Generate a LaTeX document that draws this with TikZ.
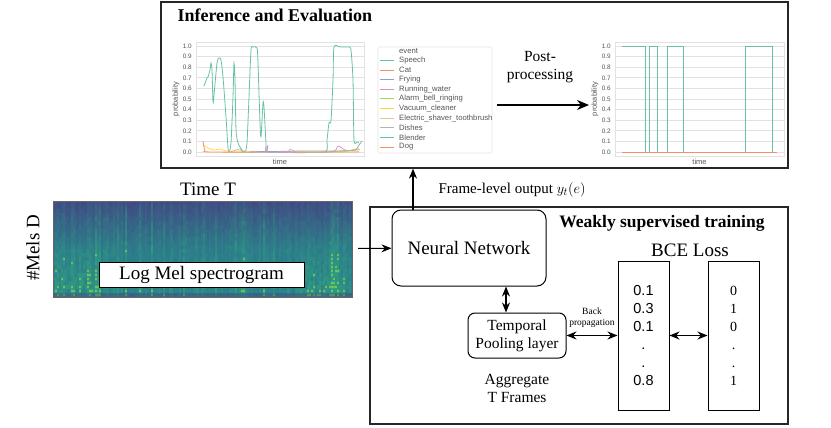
\documentclass[tikz,border=0pt]{standalone}
\usepackage{fontspec}
\setmainfont{Liberation Serif}
\setsansfont{Liberation Sans}
\usetikzlibrary{arrows.meta}

\definecolor{speech}{HTML}{66C2A5}
\definecolor{cat}{HTML}{FC8D62}
\definecolor{frying}{HTML}{8DA0CB}
\definecolor{running}{HTML}{E78AC3}
\definecolor{alarm}{HTML}{A6D854}
\definecolor{vacuum}{HTML}{FFD92F}
\definecolor{shaver}{HTML}{E5C494}
\definecolor{dishes}{HTML}{B3B3B3}
\definecolor{gridgray}{HTML}{E2E2E2}
\definecolor{ticktext}{HTML}{555555}
\definecolor{vtop}{HTML}{433F85}
\definecolor{vmid}{HTML}{2D6F8E}
\definecolor{vgreen}{HTML}{2FB17C}
\definecolor{vyellow}{HTML}{B5DE2B}

\newcommand{\bigfont}{\fontsize{19}{21}\selectfont}
\newcommand{\midfont}{\fontsize{15.5}{18}\selectfont}
\newcommand{\ticksize}{\fontsize{6.4}{6.5}\selectfont}

\tikzstyle{panel}=[draw=black!85,line width=1.3pt,inner sep=0pt]
\tikzstyle{roundbox}=[draw,rounded corners=9pt,line width=1pt,align=center,font=\bigfont]
\tikzstyle{vecbox}=[draw,line width=1pt,minimum width=51pt,minimum height=149pt,align=center]
\tikzstyle{ticklab}=[font=\sffamily\ticksize,text=ticktext,anchor=east,inner sep=1pt]
\tikzstyle{axlab}=[font=\sffamily\fontsize{7.5}{7.5}\selectfont,text=ticktext,inner sep=0pt]
\tikzstyle{legtext}=[font=\sffamily\fontsize{7.7}{8}\selectfont,text=ticktext,anchor=west,inner sep=0pt]
\tikzstyle{arr}=[-{Stealth[length=10pt,width=8pt]},line width=1.1pt]
\tikzstyle{dblarr}=[{Stealth[length=10pt,width=8pt]}-{Stealth[length=10pt,width=8pt]},line width=1.1pt]

% probability axes: #1 left, #2 right
\newcommand{\probaxes}[2]{%
  \draw[gridgray,line width=0.8pt] (#1,42) rectangle (#2,156);
  \foreach \i in {0,...,10} {
    \draw[gridgray,line width=0.6pt] (#1,152-10.6*\i) -- (#2,152-10.6*\i);
    \node[ticklab] at (#1-3,152-10.6*\i) {\ifnum\i=10 1.0\else 0.\i\fi};
  }
  \node[axlab,rotate=90] at (#1-20,99) {probability};
  \node[axlab] at ({(#1+#2)/2},162) {time};
}

\begin{document}
\begin{tikzpicture}[x=1pt,y=-1pt]
  \useasboundingbox (0,0) rectangle (831,428);

  % inference panel
  \node[panel,minimum width=627pt,minimum height=166pt] (infbox) at (474.5,85) {};
  \node[font=\bfseries\fontsize{18}{20}\selectfont,anchor=west] (inftitle) at (174,15) {Inference and Evaluation};

  \probaxes{196}{364}
  \draw[speech,line width=0.8pt] plot[smooth,tension=0.4] coordinates {(204,86) (207,78) (208,77) (210,70) (211,63) (212,70) (213,102) (214,95)
    (217,63) (219,58) (221,60) (223,77) (226,117) (228,148) (229,152) (231,143) (233,97) (234,63) (235,80) (236,130) (238,143)
    (242,150) (245,152) (247,143) (249,97) (251,50) (253,47) (257,48) (258,63) (260,123) (261,137) (263,103) (264,107) (266,143)
    (267,152) (290,152) (325,152) (327,140) (329,123) (331,121) (333,80) (334,47) (340,47) (347,47) (349,47) (351,50) (353,80)
    (354,140) (357,142) (359,143)};
  \draw[vacuum,line width=0.7pt] plot[smooth] coordinates {(203,145) (208,148) (214,150) (220,149) (226,151) (240,151) (300,152) (350,151) (359,148)};
  \draw[cat,line width=0.8pt] plot[smooth] coordinates {(203,141) (205,150) (212,152) (300,152) (359,152)};
  \draw[running,line width=0.7pt] plot[smooth] coordinates {(250,152) (266,151) (268,145) (271,152) (330,152) (338,146) (345,150) (359,151)};
  \draw[frying,line width=0.7pt] plot[smooth] coordinates {(250,152) (300,151) (330,151) (354,150) (359,145) (362,141)};
  \draw[dishes,line width=0.6pt] plot[smooth] coordinates {(230,152) (240,149) (245,152) (285,152) (290,149) (295,152)};
  \draw[alarm,line width=0.6pt] plot[smooth] coordinates {(300,152) (340,152) (356,149) (360,150)};

  % legend
  \node[draw=gridgray,rounded corners=1pt,line width=0.7pt,minimum width=114pt,minimum height=106pt] (leg) at (435,100) {};
  \foreach \c/\t [count=\k from 0] in {white/event,speech/Speech,cat/Cat,frying/Frying,running/Running\_water,
      alarm/Alarm\_bell\_ringing,vacuum/Vacuum\_cleaner,shaver/Electric\_shaver\_toothbrush,dishes/Dishes,speech/Blender,cat/Dog} {
    \draw[\c,line width=1pt] (380,51+9.6*\k) -- (394,51+9.6*\k);
    \node[legtext] at (399,51+9.6*\k) {\t};
  }

  % post-processing
  \node[font=\fontsize{15.5}{18}\selectfont,align=center] (posttext) at (540,67) {Post-\\processing};
  \coordinate (pp1) at (497,105);
  \coordinate (pp2) at (589,105);
  \draw[-{Stealth[length=12pt,width=10pt]},line width=1.2pt] (pp1) -- (pp2);

  \probaxes{615}{784}
  \draw[speech,line width=0.8pt] (622,46) -- (645,46) -- (645,152.7) -- (649,152.7) -- (649,46) -- (657,46) -- (657,152.7)
    -- (667,152.7) -- (667,46) -- (683,46) -- (683,152.7) -- (745,152.7) -- (745,46) -- (772,46) -- (772,152.7) -- (777,152.7);
  \draw[cat,line width=0.8pt] (622,152.7) -- (777,152.7);

  % spectrogram
  \node[minimum width=299pt,minimum height=96pt,inner sep=0pt] (spec) at (202.5,249) {};
  \begin{scope}
    \clip (53,201) rectangle (352,297);
    \shade[top color=vtop,bottom color=vmid,middle color=vmid] (53,201) rectangle (352,297);
    \pgfmathsetseed{23}
    \foreach \c in {0,...,149} {
      \pgfmathsetmacro{\xx}{53+2*\c}
      \pgfmathsetmacro{\en}{0.22+0.55*rnd*rnd}
      \pgfmathsetmacro{\zone}{((\xx<100)||((\xx>295)&&(\xx<345)))?1:0}
      \foreach \r in {0,...,23} {
        \pgfmathsetmacro{\yy}{201+4*\r}
        \pgfmathsetmacro{\op}{min(0.9,\en*(0.5+0.5*rnd)*(0.55+\r/26)+0.45*\zone*max(0,(\r-8)/15)*rnd)}
        \fill[vgreen,opacity=\op] (\xx,\yy) rectangle ++(2,4);
        \pgfmathtruncatemacro{\hot}{(\op>0.66)&&(\r>11)}
        \ifnum\hot=1 \fill[vyellow,opacity=0.5] (\xx,\yy+1) rectangle ++(2,2); \fi
      }
    }
    \fill[vtop,opacity=0.4] (53,293) rectangle (352,297);
  \end{scope}
  \draw[black!60,line width=0.5pt] (spec.north west) rectangle (spec.south east);
  \node[draw,fill=white,line width=1pt,minimum width=205pt,minimum height=25pt,font=\bigfont,inner sep=0pt] (logmel) at (201.5,274.5) {Log Mel spectrogram};
  \node[font=\bigfont] (timet) at (208,189) {Time T};
  \node[font=\bigfont,rotate=90] (mels) at (33,248) {\#Mels D};

  % training panel
  \node[panel,minimum width=418pt,minimum height=217pt] (trainbox) at (579,315.5) {};
  \node[font=\bfseries\fontsize{17.5}{19}\selectfont] (traintitle) at (662,223) {Weakly supervised training};
  \node[roundbox,minimum width=154pt,minimum height=76pt] (nn) at (469,248) {Neural Network};
  \node[font=\bigfont] (bce) at (690,250) {BCE Loss};
  \node[roundbox,rounded corners=7pt,minimum width=98pt,minimum height=45pt,inner sep=1pt,font=\midfont] (pool) at (517,335.5) {Temporal\\Pooling layer};
  \node[font=\midfont,align=center] (aggr) at (517,388) {Aggregate\\T Frames};
  \node[vecbox,font=\sffamily\fontsize{14.5}{18}\selectfont] (pred) at (643.5,335.5) {0.1\\0.3\\0.1\\.\\.\\0.8};
  \node[vecbox,font=\fontsize{14}{18}\selectfont] (truth) at (733.5,335.5) {0\\1\\0\\.\\.\\1};
  \node[font=\fontsize{9.5}{11}\selectfont,align=center,inner sep=0pt] (backprop) at (592,318) {Back\\propagation};

  % connectors
  \draw[arr,shorten <=6pt] (spec) -- (nn);
  \coordinate (nnout) at (413,210);
  \draw[arr] (nnout) -- (nnout |- infbox.south);
  \node[font=\fontsize{15}{17}\selectfont,anchor=west] (framelab) at (435,190) {Frame-level output $y_t(e)$};
  \coordinate (poolin) at (506,313);
  \draw[dblarr] (poolin |- nn.south) -- (poolin |- pool.north);
  \draw[dblarr] (pool) -- (pred);
  \draw[dblarr] (pred) -- (truth);
\end{tikzpicture}
\end{document}
